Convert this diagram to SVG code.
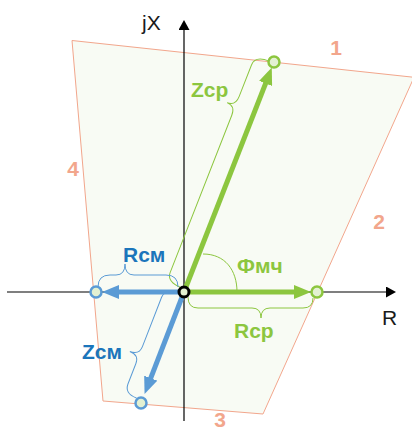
<svg xmlns="http://www.w3.org/2000/svg" width="412" height="430" viewBox="0 0 412 430">
<defs>
<style>
.zone{fill:#f8fbf4;stroke:#f2a68c;stroke-width:1}
.num{font-family:"Liberation Sans",Arial,sans-serif;font-weight:bold;font-size:21px;fill:#f2a68c;text-anchor:middle}
.ax{stroke:#000;stroke-width:1.2;fill:none}
.axl{font-family:"Liberation Sans",Arial,sans-serif;font-size:21px;fill:#1a1a1a}
.gv{stroke:#8cc63f;stroke-width:5;fill:none}
.bv{stroke:#5b9bd5;stroke-width:5;fill:none}
.gb{stroke:#8cc63f;stroke-width:1;fill:none}
.bb{stroke:#5b9bd5;stroke-width:1;fill:none}
.gt{font-family:"Liberation Sans",Arial,sans-serif;font-weight:bold;font-size:21px;fill:#8cc63f}
.bt{font-family:"Liberation Sans",Arial,sans-serif;font-weight:bold;font-size:21px;fill:#1b75bb}
.gc{fill:#e3f1d2;stroke:#8cc63f;stroke-width:2.5}
.bc{fill:#e3f1d2;stroke:#5b9bd5;stroke-width:2.5}
</style>
<marker id="ag" markerUnits="userSpaceOnUse" markerWidth="18" markerHeight="14" refX="5" refY="7" orient="auto"><path d="M0,0 L17,7 L0,14 z" fill="#8cc63f"/></marker>
<marker id="ab" markerUnits="userSpaceOnUse" markerWidth="18" markerHeight="14" refX="5" refY="7" orient="auto"><path d="M0,0 L17,7 L0,14 z" fill="#5b9bd5"/></marker>
<marker id="ak" markerUnits="userSpaceOnUse" markerWidth="12" markerHeight="12" refX="1" refY="5.5" orient="auto"><path d="M0,0 L10,5.5 L0,11 z" fill="#000"/></marker>
</defs>

<g id="zone">
<polygon class="zone" points="72,40.5 414,77.3 263,414 103,401"/>
<text class="num" x="336" y="55">1</text>
<text class="num" x="379" y="229">2</text>
<text class="num" x="220" y="427">3</text>
<text class="num" x="73" y="176">4</text>
</g>

<g id="axes">
<line class="ax" x1="184" y1="421" x2="184" y2="29" marker-end="url(#ak)"/>
<line class="ax" x1="7" y1="292" x2="387" y2="292" marker-end="url(#ak)"/>
<text class="axl" x="142" y="30">jX</text>
<text class="axl" x="382" y="325">R</text>
</g>

<g id="connectors">
<line class="gv" x1="184" y1="292" x2="267.4" y2="78.8" marker-end="url(#ag)"/>
<line class="gv" x1="184" y1="292" x2="299" y2="292" marker-end="url(#ag)"/>
<line class="bv" x1="184" y1="292" x2="114" y2="292" marker-end="url(#ab)"/>
<line class="bv" x1="184" y1="292" x2="148.9" y2="382.8" marker-end="url(#ab)"/>
<path class="gb" d="M203,254 C225,254 237,270 237,292"/>
<path class="gb" transform="translate(184 292) rotate(-68.6)" d="M3,-3 Q3,-20 13,-20 L182,-20 Q192,-20 192,-29 Q192,-20 202,-20 L236,-20 Q246,-20 246,-5"/>
<path class="gb" d="M188,297 Q188,308 198,308 L252,308 Q261,308 261,318 Q261,308 270,308 L303,308 Q313,308 313,298"/>
<path class="bb" d="M98,287 Q98,275 110,275 L116,275 Q125,275 125,264 Q125,275 134,275 L166,275 Q178,275 178,287"/>
<path class="bb" transform="translate(184 292) rotate(111.2)" d="M3,3 Q3,19 13,19 L66,19 Q75,19 75,29 Q75,19 84,19 L106,19 Q116,19 116,6"/>
</g>

<g id="node-zsr"><circle class="gc" cx="274" cy="62" r="5.5"/><text class="gt" x="191" y="97">Zср</text></g>
<g id="node-rsr"><circle class="gc" cx="317" cy="292" r="5.5"/><text class="gt" x="234" y="338">Rср</text></g>
<g id="node-phi"><text class="gt" x="237" y="273">Фмч</text></g>
<g id="node-rsm"><circle class="bc" cx="96" cy="292" r="5.5"/><text class="bt" x="123" y="262">Rсм</text></g>
<g id="node-zsm"><circle class="bc" cx="141" cy="403" r="5.5"/><text class="bt" x="82" y="359">Zсм</text></g>
<g id="origin"><circle cx="184" cy="292" r="5" fill="#e3f1d2" stroke="#000" stroke-width="3"/></g>
</svg>
